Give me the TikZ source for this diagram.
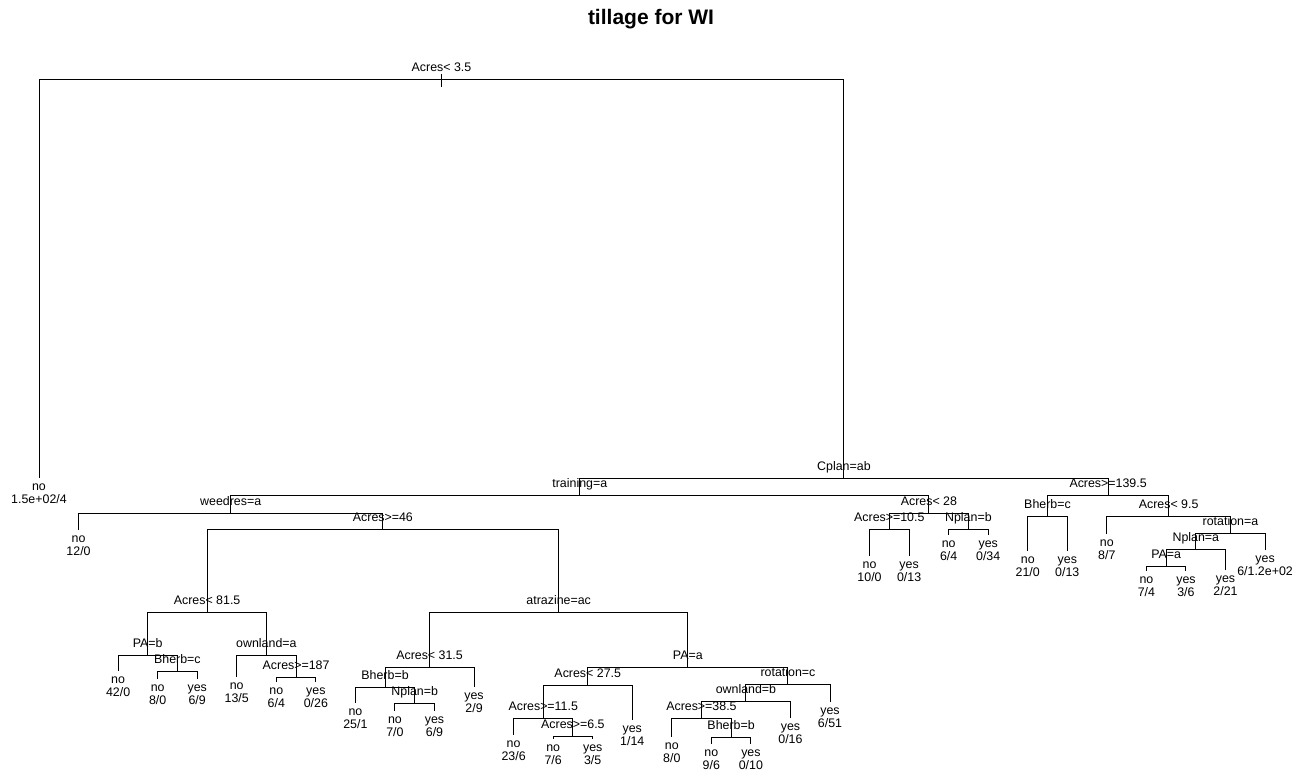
\documentclass[tikz,border=0pt]{standalone}
\usepackage{fontspec}
\setmainfont{Liberation Sans}

\begin{document}
\begin{tikzpicture}[
    x = 0.5pt, y = -0.5pt,
    line width = 0.5pt,
    split/.style={coordinate},
    leaf/.style={coordinate},
    lbl/.style={font=\fontsize{6.2}{6.2}\selectfont, inner sep=0pt, text depth=0pt, yshift=3.75pt},
    leaflbl/.style={font=\fontsize{6.2}{6.2}\selectfont, inner sep=0pt, align=center, yshift=-2.9pt},
    title/.style={font=\fontsize{10.5}{12}\selectfont\bfseries, inner sep=0pt}
]
\useasboundingbox (0,0) rectangle (1308,777);

\node[title] (ttl) at (651,19) {tillage for WI};

% --- Split nodes ---
\node[split, label={[lbl]above:{Acres< 3.5}}] (root) at (441.5,79) {};
\coordinate (roottop) at (441.5,74);
\coordinate (rootbot) at (441.5,87);

\node[split, label={[lbl]above:{Cplan=ab}}] (cplan) at (843.95,478) {};
\node[split, label={[lbl]above:{training=a}}] (training) at (579.8,495) {};
\node[split, label={[lbl]above:{Acres>=139.5}}] (acres1395) at (1108.1,495) {};
\node[split, label={[lbl]above:{weedres=a}}] (weedres) at (230.7,513) {};
\node[split, label={[lbl]above:{Acres< 28}}] (acres28) at (928.9,513) {};
\node[split, label={[lbl]above:{Acres>=46}}] (acres46) at (382.9,529) {};
\node[split, label={[lbl]above:{Acres< 81.5}}] (acres815) at (207.1,612) {};
\node[split, label={[lbl]above:{atrazine=ac}}] (atrazine) at (558.7,612) {};
\node[split, label={[lbl]above:{PA=b}}] (pab) at (147.75,655) {};
\node[split, label={[lbl]above:{Bherb=c}}] (bherbc) at (177.4,671) {};
\node[split, label={[lbl]above:{ownland=a}}] (ownlanda) at (266.4,655) {};
\node[split, label={[lbl]above:{Acres>=187}}] (acres187) at (296.1,677) {};
\node[split, label={[lbl]above:{Acres< 31.5}}] (acres315) at (429.55,667) {};
\node[split, label={[lbl]above:{Bherb=b}}] (bherbb) at (385.05,687) {};
\node[split, label={[lbl]above:{Nplan=b}}] (nplanb) at (414.7,703) {};
\node[split, label={[lbl]above:{PA=a}}] (paa) at (687.86,667) {};
\node[split, label={[lbl]above:{Acres< 27.5}}] (acres275) at (587.75,685) {};
\node[split, label={[lbl]above:{Acres>=11.5}}] (acres115) at (543.25,718) {};
\node[split, label={[lbl]above:{Acres>=6.5}}] (acres65) at (572.9,736) {};
\node[split, label={[lbl]above:{rotation=c}}] (rotationc) at (787.98,684) {};
\node[split, label={[lbl]above:{ownland=b}}] (ownlandb) at (745.95,701) {};
\node[split, label={[lbl]above:{Acres>=38.5}}] (acres385) at (701.45,718) {};
\node[split, label={[lbl]above:{Bherb=b}}] (bherbb2) at (731.1,737) {};
\node[split, label={[lbl]above:{Acres>=10.5}}] (acres105) at (889.3,529) {};
\node[split, label={[lbl]above:{Nplan=b}}] (nplanb2) at (968.4,529) {};
\node[split, label={[lbl]above:{Bherb=c}}] (bherbc2) at (1047.5,516) {};
\node[split, label={[lbl]above:{Acres< 9.5}}] (acres95) at (1168.65,516) {};
\node[split, label={[lbl]above:{rotation=a}}] (rotationa) at (1230.45,533) {};
\node[split, label={[lbl]above:{Nplan=a}}] (nplana) at (1195.85,549) {};
\node[split, label={[lbl]above:{PA=a}}] (paa2) at (1166.2,566) {};

% --- Leaves ---
\node[leaf, label={[leaflbl]below:{no\\1.5e+02/4}}] (l1) at (39,478) {};
\node[leaf, label={[leaflbl]below:{no\\12/0}}] (l2) at (78.55,530) {};
\node[leaf, label={[leaflbl]below:{no\\42/0}}] (l3) at (118.1,671) {};
\node[leaf, label={[leaflbl]below:{no\\8/0}}] (l4) at (157.65,679) {};
\node[leaf, label={[leaflbl]below:{yes\\6/9}}] (l5) at (197.2,679) {};
\node[leaf, label={[leaflbl]below:{no\\13/5}}] (l6) at (236.75,677) {};
\node[leaf, label={[leaflbl]below:{no\\6/4}}] (l7) at (276.3,682) {};
\node[leaf, label={[leaflbl]below:{yes\\0/26}}] (l8) at (315.85,682) {};
\node[leaf, label={[leaflbl]below:{no\\25/1}}] (l9) at (355.4,703) {};
\node[leaf, label={[leaflbl]below:{no\\7/0}}] (l10) at (394.95,711) {};
\node[leaf, label={[leaflbl]below:{yes\\6/9}}] (l11) at (434.5,711) {};
\node[leaf, label={[leaflbl]below:{yes\\2/9}}] (l12) at (474.05,687) {};
\node[leaf, label={[leaflbl]below:{no\\23/6}}] (l13) at (513.6,735) {};
\node[leaf, label={[leaflbl]below:{no\\7/6}}] (l14) at (553.15,739) {};
\node[leaf, label={[leaflbl]below:{yes\\3/5}}] (l15) at (592.7,739) {};
\node[leaf, label={[leaflbl]below:{yes\\1/14}}] (l16) at (632.25,720) {};
\node[leaf, label={[leaflbl]below:{no\\8/0}}] (l17) at (671.8,737) {};
\node[leaf, label={[leaflbl]below:{no\\9/6}}] (l18) at (711.35,744) {};
\node[leaf, label={[leaflbl]below:{yes\\0/10}}] (l19) at (750.9,744) {};
\node[leaf, label={[leaflbl]below:{yes\\0/16}}] (l20) at (790.45,718) {};
\node[leaf, label={[leaflbl]below:{yes\\6/51}}] (l21) at (830,702) {};
\node[leaf, label={[leaflbl]below:{no\\10/0}}] (l22) at (869.55,556) {};
\node[leaf, label={[leaflbl]below:{yes\\0/13}}] (l23) at (909.1,556) {};
\node[leaf, label={[leaflbl]below:{no\\6/4}}] (l24) at (948.65,535) {};
\node[leaf, label={[leaflbl]below:{yes\\0/34}}] (l25) at (988.2,535) {};
\node[leaf, label={[leaflbl]below:{no\\21/0}}] (l26) at (1027.75,551) {};
\node[leaf, label={[leaflbl]below:{yes\\0/13}}] (l27) at (1067.3,551) {};
\node[leaf, label={[leaflbl]below:{no\\8/7}}] (l28) at (1106.85,534) {};
\node[leaf, label={[leaflbl]below:{no\\7/4}}] (l29) at (1146.4,571) {};
\node[leaf, label={[leaflbl]below:{yes\\3/6}}] (l30) at (1185.95,571) {};
\node[leaf, label={[leaflbl]below:{yes\\2/21}}] (l31) at (1225.5,570) {};
\node[leaf, label={[leaflbl]below:{yes\\6/1.2e+02}}] (l32) at (1265.05,550) {};

% --- Branches ---
\draw (roottop) -- (rootbot);
\draw (root) -| (l1) (root) -| (cplan);
\draw (cplan) -| (training) (cplan) -| (acres1395);
\draw (training) -| (weedres) (training) -| (acres28);
\draw (weedres) -| (l2) (weedres) -| (acres46);
\draw (acres46) -| (acres815) (acres46) -| (atrazine);
\draw (acres815) -| (pab) (acres815) -| (ownlanda);
\draw (pab) -| (l3) (pab) -| (bherbc);
\draw (bherbc) -| (l4) (bherbc) -| (l5);
\draw (ownlanda) -| (l6) (ownlanda) -| (acres187);
\draw (acres187) -| (l7) (acres187) -| (l8);
\draw (atrazine) -| (acres315) (atrazine) -| (paa);
\draw (acres315) -| (bherbb) (acres315) -| (l12);
\draw (bherbb) -| (l9) (bherbb) -| (nplanb);
\draw (nplanb) -| (l10) (nplanb) -| (l11);
\draw (paa) -| (acres275) (paa) -| (rotationc);
\draw (acres275) -| (acres115) (acres275) -| (l16);
\draw (acres115) -| (l13) (acres115) -| (acres65);
\draw (acres65) -| (l14) (acres65) -| (l15);
\draw (rotationc) -| (ownlandb) (rotationc) -| (l21);
\draw (ownlandb) -| (acres385) (ownlandb) -| (l20);
\draw (acres385) -| (l17) (acres385) -| (bherbb2);
\draw (bherbb2) -| (l18) (bherbb2) -| (l19);
\draw (acres28) -| (acres105) (acres28) -| (nplanb2);
\draw (acres105) -| (l22) (acres105) -| (l23);
\draw (nplanb2) -| (l24) (nplanb2) -| (l25);
\draw (acres1395) -| (bherbc2) (acres1395) -| (acres95);
\draw (bherbc2) -| (l26) (bherbc2) -| (l27);
\draw (acres95) -| (l28) (acres95) -| (rotationa);
\draw (rotationa) -| (nplana) (rotationa) -| (l32);
\draw (nplana) -| (paa2) (nplana) -| (l31);
\draw (paa2) -| (l29) (paa2) -| (l30);

\end{tikzpicture}
\end{document}
